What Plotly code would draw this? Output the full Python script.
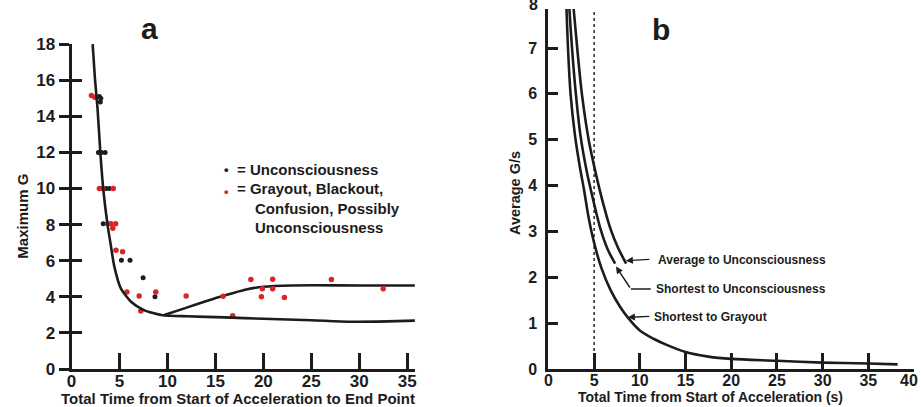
import plotly.graph_objects as go

# ---------------- Panel a data ----------------
lower_t = [2.2, 2.45, 2.7, 3.0, 3.3, 3.75, 4.05, 4.45, 5.15, 6.2, 7.5, 8.5, 9.5, 12, 16, 20, 25, 29, 33, 35.8]
lower_g = [18, 16, 14.5, 12, 10, 8, 7, 5.7, 4.45, 3.73, 3.28, 3.1, 2.98, 2.92, 2.86, 2.78, 2.7, 2.62, 2.64, 2.68]
upper_t = [9.6, 12, 14, 16, 18, 20, 23, 30, 35.8]
upper_g = [2.98, 3.4, 3.75, 4.08, 4.38, 4.56, 4.63, 4.63, 4.63]

unc_t = [2.9, 3.0, 3.05, 2.8, 3.1, 3.5, 3.6, 3.95, 3.3, 5.2, 6.1, 7.46, 8.7]
unc_g = [15.1, 14.8, 15.0, 12, 12, 12, 10, 10, 8.05, 6.02, 6.02, 5.05, 4.0]

gray_t = [2.07, 2.42, 2.9, 3.25, 4.35, 3.77, 4.1, 4.6, 4.3, 4.63, 5.32, 5.77, 7.05, 7.22, 8.78,
          11.95, 15.8, 16.8, 18.7, 20.97, 27.1, 19.9, 20.97, 32.5, 19.8, 22.2]
gray_g = [15.15, 15.05, 10, 10, 10, 8.05, 8.05, 8.05, 7.8, 6.58, 6.49, 4.27, 4.04, 3.22, 4.27,
          4.04, 4.03, 2.95, 4.96, 4.97, 4.96, 4.45, 4.45, 4.45, 4.0, 3.96]

a_xticks = [0, 5, 10, 15, 20, 25, 30, 35]
a_yticks = [0, 2, 4, 6, 8, 10, 12, 14, 16, 18]

# ---------------- Panel b data ----------------
sg_t = [1.9, 2.14, 2.42, 2.9, 3.4, 3.9, 4.4, 5.0, 5.8, 6.8, 7.8, 8.7, 10, 11.5, 13, 15, 17.5, 20, 25, 30, 35, 38.2]
sg_g = [8.3, 7.0, 6.0, 5.1, 4.45, 3.9, 3.3, 2.75, 2.2, 1.72, 1.37, 1.12, 0.84, 0.66, 0.52, 0.37, 0.27, 0.22, 0.18, 0.14, 0.12, 0.1]
su_t = [2.15, 2.58, 3.0, 3.5, 4.2, 5.0, 5.7, 6.5, 7.3]
su_g = [8.3, 7.0, 6.0, 5.1, 4.3, 3.6, 3.05, 2.6, 2.3]
au_t = [2.55, 3.15, 3.66, 4.4, 5.2, 6.0, 6.8, 7.6, 8.5]
au_g = [8.3, 7.0, 6.0, 5.0, 4.25, 3.6, 3.05, 2.65, 2.3]
dotted_t = [5, 5]
dotted_g = [0, 9]

b_xticks = [0, 5, 10, 15, 20, 25, 30, 35, 40]
b_yticks = [0, 1, 2, 3, 4, 5, 6, 7, 8]

W, H = 921, 407
B = 38
PH = H - B  # plot-area pixel height (369)

FONT = "Liberation Sans, Arial, sans-serif"
INK = "#1c1c1c"
RED = "#d7262b"

fig = go.Figure()

line_style = dict(color=INK, width=2.6)
fig.add_trace(go.Scatter(x=lower_t, y=lower_g, mode="lines", line=dict(**line_style, shape="spline", smoothing=0.6),
                         xaxis="x", yaxis="y3", showlegend=False, hoverinfo="skip"))
fig.add_trace(go.Scatter(x=upper_t, y=upper_g, mode="lines", line=dict(**line_style, shape="spline", smoothing=0.8),
                         xaxis="x", yaxis="y", showlegend=False, hoverinfo="skip"))
fig.add_trace(go.Scatter(x=unc_t, y=unc_g, mode="markers", marker=dict(color=INK, size=5),
                         xaxis="x", yaxis="y", showlegend=False))
fig.add_trace(go.Scatter(x=gray_t, y=gray_g, mode="markers", marker=dict(color=RED, size=5.5),
                         xaxis="x", yaxis="y", showlegend=False))

# panel b
fig.add_trace(go.Scatter(x=dotted_t, y=dotted_g, mode="lines", line=dict(color="#333", width=1.6, dash="dot"),
                         xaxis="x2", yaxis="y2", showlegend=False, hoverinfo="skip"))
for tt, gg in [(sg_t, sg_g), (su_t, su_g), (au_t, au_g)]:
    fig.add_trace(go.Scatter(x=tt, y=gg, mode="lines", line=dict(**line_style, shape="spline", smoothing=0.9),
                             xaxis="x2", yaxis="y2", showlegend=False, hoverinfo="skip"))


def bold(vals):
    return ["<b>%g</b>" % v for v in vals]


# the last x label of panel b sits at the page edge; it is drawn as an annotation below
b_xtext = bold(b_xticks[:-1]) + [""]

axis_common = dict(showgrid=False, zeroline=False, showline=True, linecolor=INK, linewidth=3,
                   tickcolor=INK, tickwidth=2.5, tickmode="array")

fig.update_layout(
    width=W, height=H,
    margin=dict(l=0, r=0, t=0, b=B),
    paper_bgcolor="white", plot_bgcolor="white",
    font=dict(family=FONT, color=INK),
    xaxis=dict(**axis_common, domain=[67 / W, 413 / W], range=[0, 35.85], anchor="y",
               tickvals=a_xticks, ticktext=bold(a_xticks), ticks="inside", ticklen=16,
               ticklabelstandoff=-5, tickfont=dict(family=FONT, size=17, color=INK)),
    yaxis=dict(**axis_common, domain=[0, 333 / PH], range=[0, 18], anchor="x",
               tickvals=a_yticks, ticktext=bold(a_yticks), ticks="outside", ticklen=10,
               tickfont=dict(family=FONT, size=17, color=INK)),
    yaxis3=dict(showgrid=False, zeroline=False, showline=False, overlaying="y", anchor="x",
                range=[0, 18], tickmode="array", tickvals=a_yticks[1:], ticks="inside", ticklen=10,
                tickwidth=2.5, tickcolor=INK, showticklabels=False),
    xaxis2=dict(**axis_common, domain=[547 / W, 915 / W], range=[0, 40], anchor="y2",
                tickvals=b_xticks, ticktext=b_xtext, ticks="inside", ticklen=16,
                ticklabelstandoff=-5, tickfont=dict(family=FONT, size=16, color=INK)),
    yaxis2=dict(**axis_common, domain=[0, 1], range=[0, PH / 47.0], anchor="x2",
                tickvals=b_yticks, ticktext=bold(b_yticks), ticks="inside", ticklen=10,
                ticklabelstandoff=5, tickfont=dict(family=FONT, size=16, color=INK)),
)


def px(xp):
    return xp / W


def py(yp):
    return (PH - yp) / PH


ann = []


def txt(text, xp, yp, size, xanchor="center", yanchor="middle", angle=0, color=INK):
    ann.append(dict(text="<b>%s</b>" % text, x=px(xp), y=py(yp), xref="paper", yref="paper", showarrow=False,
                    xanchor=xanchor, yanchor=yanchor, textangle=angle,
                    font=dict(family=FONT, size=size, color=color)))


# panel titles
txt("a", 145, 20, 30)
txt("b", 660, 21, 30)
# axis titles
txt("Maximum G", 18, 212, 15, angle=-90)
txt("Total Time from Start of Acceleration to End Point", 235, 399, 15)
txt("Average G/s", 514, 189, 14.5, angle=-90)
txt("Total Time from Start of Acceleration (s)", 710, 398, 14)
# tick label "8" of panel b, mostly above the top edge of the picture
txt("8", 539, -5, 16, xanchor="right")
# tick label "40" of panel b, at the right edge of the picture
txt("40", 921, 381, 16, xanchor="right")

# legend in panel a
txt("•", 223, 164, 13)
txt("•", 223, 187, 13, color=RED)
txt("= Unconsciousness", 232, 164, 15, xanchor="left")
txt("= Grayout, Blackout,", 232, 184, 15, xanchor="left")
txt("Confusion, Possibly", 250, 204, 15, xanchor="left")
txt("Unconsciousness", 250, 224, 15, xanchor="left")


# panel b curve labels (data coords of axis x2/y2)
def bx(xp):
    return (xp - 547) / 9.2


def by(yp):
    return (PH - yp) / 47.0


label_font = dict(family=FONT, size=12, color=INK)
for text, xp, yp in [("Average to Unconsciousness", 655, 257),
                     ("Shortest to Unconsciousness", 653, 287),
                     ("Shortest to Grayout", 651, 316)]:
    ann.append(dict(text="<b>%s</b>" % text, x=bx(xp), y=by(yp), xref="x2", yref="y2", showarrow=False,
                    xanchor="left", yanchor="middle", font=label_font))

arrow = dict(showarrow=True, arrowhead=2, arrowsize=1, arrowwidth=1.4, arrowcolor=INK, text="",
             xref="x2", yref="y2", axref="x2", ayref="y2", standoff=0)
ann.append(dict(**arrow, x=bx(625), y=by(258), ax=bx(650), ay=by(256.5)))
ann.append(dict(**arrow, x=bx(615), y=by(264), ax=bx(630), ay=by(287)))
ann.append(dict(**arrow, x=bx(627), y=by(316), ax=bx(650), ay=by(315)))

fig.update_layout(annotations=ann)
fig.add_shape(type="line", xref="x2", yref="y2", x0=bx(630), y0=by(287), x1=bx(650), y1=by(287),
              line=dict(color=INK, width=1.4))

fig.write_html("out.html")
